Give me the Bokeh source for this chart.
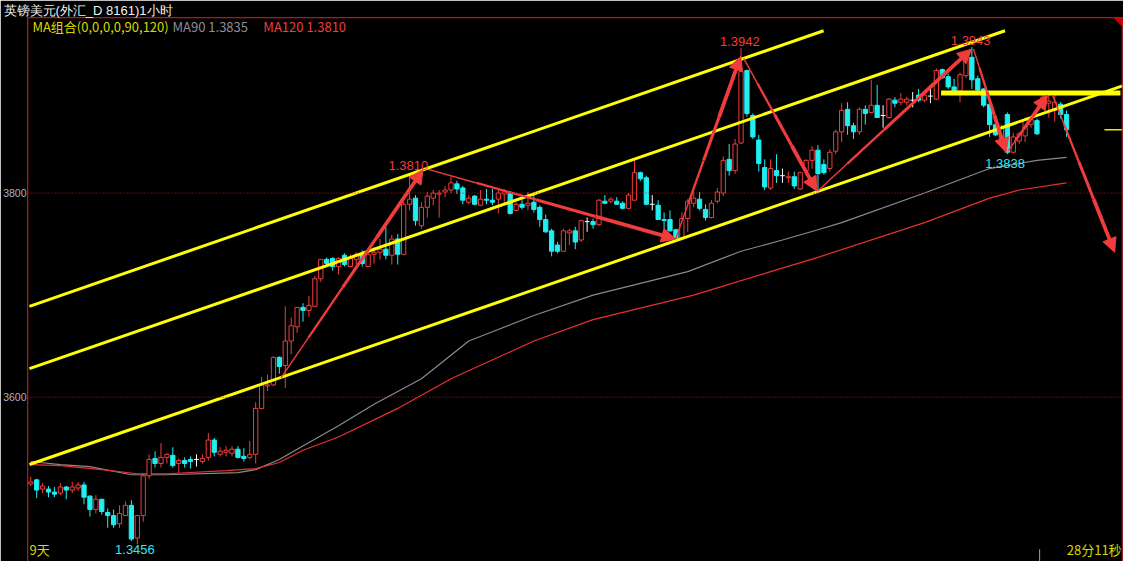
import math
from bokeh.plotting import figure
from bokeh.models import (ColumnDataSource, Span, Label, Arrow, NormalHead,
                          LinearAxis, FixedTicker)
from bokeh.embed import file_html
from bokeh.resources import INLINE

# ---------------- data ----------------
open_ = [1.3515,1.3519,1.3510,1.3510,1.3507,1.3506,1.3512,1.3509,1.3511,1.3514,
         1.3503,1.3490,1.3500,1.3487,1.3484,1.3476,1.3484,1.3494,1.3462,1.3484,
         1.3523,1.3540,1.3535,1.3541,1.3543,1.3535,1.3538,1.3539,1.3539,1.3537,
         1.3541,1.3558,1.3544,1.3546,1.3545,1.3549,1.3542,1.3541,1.3544,1.3589,
         1.3611,1.3612,1.3639,1.3631,1.3655,1.3669,1.3688,1.3685,1.3689,1.3716,
         1.3735,1.3736,1.3728,1.3739,1.3728,1.3735,1.3740,1.3728,1.3740,1.3742,
         1.3745,1.3739,1.3755,1.3740,1.3789,1.3795,1.3768,1.3786,1.3795,1.3799,
         1.3801,1.3803,1.3809,1.3805,1.3791,1.3797,1.3788,1.3794,1.3793,1.3794,
         1.3799,1.3800,1.3783,1.3789,1.3788,1.3791,1.3786,1.3774,1.3763,1.3749,
         1.3743,1.3761,1.3763,1.3754,1.3772,1.3772,1.3769,1.3792,1.3792,1.3792,
         1.3790,1.3785,1.3793,1.3820,1.3815,1.3789,1.3788,1.3774,1.3774,1.3764,
         1.3756,1.3775,1.3790,1.3794,1.3784,1.3776,1.3792,1.3800,1.3833,1.3822,
         1.3849,1.3920,1.3876,1.3852,1.3825,1.3805,1.3822,1.3817,1.3815,1.3816,
         1.3804,1.3822,1.3832,1.3842,1.3828,1.3824,1.3841,1.3860,1.3882,1.3866,
         1.3860,1.3882,1.3879,1.3886,1.3876,1.3874,1.3891,1.3889,1.3889,1.3891,
         1.3896,1.3891,1.3895,1.3892,1.3921,1.3914,1.3904,1.3900,1.3915,1.3933,
         1.3912,1.3902,1.3887,1.3867,1.3848,1.3877,1.3840,1.3851,1.3856,1.3867,
         1.3871,1.3886,1.3888,1.3881,1.3887,1.3877]
high_ = [1.3522,1.3520,1.3516,1.3513,1.3512,1.3516,1.3513,1.3517,1.3517,1.3517,
         1.3504,1.3504,1.3500,1.3491,1.3490,1.3494,1.3498,1.3499,1.3484,1.3525,
         1.3544,1.3547,1.3555,1.3545,1.3551,1.3540,1.3541,1.3542,1.3544,1.3544,
         1.3565,1.3560,1.3551,1.3552,1.3552,1.3552,1.3550,1.3557,1.3595,1.3620,
         1.3622,1.3640,1.3640,1.3689,1.3678,1.3688,1.3692,1.3699,1.3719,1.3735,
         1.3737,1.3737,1.3737,1.3741,1.3740,1.3742,1.3744,1.3744,1.3747,1.3755,
         1.3767,1.3759,1.3760,1.3792,1.3818,1.3798,1.3791,1.3801,1.3803,1.3803,
         1.3807,1.3816,1.3812,1.3807,1.3798,1.3798,1.3803,1.3804,1.3804,1.3803,
         1.3804,1.3802,1.3791,1.3793,1.3801,1.3798,1.3788,1.3779,1.3765,1.3752,
         1.3765,1.3765,1.3767,1.3774,1.3776,1.3775,1.3794,1.3798,1.3796,1.3796,
         1.3792,1.3800,1.3832,1.3821,1.3817,1.3798,1.3793,1.3781,1.3783,1.3765,
         1.3781,1.3794,1.3802,1.3801,1.3789,1.3793,1.3805,1.3836,1.3848,1.3853,
         1.3942,1.3921,1.3878,1.3857,1.3833,1.3833,1.3838,1.3824,1.3821,1.3821,
         1.3821,1.3833,1.3846,1.3847,1.3833,1.3843,1.3862,1.3888,1.3889,1.3869,
         1.3884,1.3886,1.3911,1.3906,1.3886,1.3893,1.3894,1.3898,1.3894,1.3899,
         1.3902,1.3899,1.3904,1.3922,1.3922,1.3917,1.3912,1.3918,1.3935,1.3943,
         1.3915,1.3903,1.3888,1.3868,1.3867,1.3879,1.3859,1.3860,1.3874,1.3873,
         1.3873,1.3899,1.3898,1.3896,1.3889,1.3881]
low_ = [1.3513,1.3501,1.3506,1.3502,1.3502,1.3504,1.3500,1.3506,1.3508,1.3495,
        1.3483,1.3486,1.3485,1.3472,1.3472,1.3472,1.3484,1.3459,1.3456,1.3478,
        1.3520,1.3531,1.3531,1.3535,1.3531,1.3526,1.3531,1.3530,1.3532,1.3535,
        1.3538,1.3542,1.3542,1.3542,1.3542,1.3540,1.3537,1.3539,1.3535,1.3588,
        1.3606,1.3611,1.3623,1.3609,1.3642,1.3663,1.3674,1.3679,1.3688,1.3713,
        1.3728,1.3724,1.3720,1.3728,1.3728,1.3730,1.3728,1.3728,1.3731,1.3735,
        1.3735,1.3730,1.3730,1.3739,1.3783,1.3768,1.3765,1.3776,1.3788,1.3776,
        1.3796,1.3800,1.3799,1.3789,1.3789,1.3788,1.3788,1.3789,1.3788,1.3780,
        1.3788,1.3779,1.3782,1.3784,1.3783,1.3781,1.3767,1.3761,1.3738,1.3741,
        1.3743,1.3749,1.3745,1.3752,1.3762,1.3765,1.3768,1.3789,1.3790,1.3789,
        1.3784,1.3784,1.3793,1.3812,1.3788,1.3783,1.3774,1.3765,1.3762,1.3755,
        1.3755,1.3762,1.3786,1.3783,1.3773,1.3775,1.3790,1.3797,1.3817,1.3819,
        1.3848,1.3875,1.3853,1.3821,1.3803,1.3803,1.3810,1.3810,1.3810,1.3804,
        1.3803,1.3817,1.3824,1.3802,1.3818,1.3821,1.3838,1.3850,1.3857,1.3853,
        1.3857,1.3867,1.3878,1.3874,1.3864,1.3873,1.3884,1.3886,1.3886,1.3884,
        1.3889,1.3889,1.3888,1.3891,1.3912,1.3902,1.3898,1.3889,1.3913,1.3902,
        1.3899,1.3884,1.3855,1.3856,1.3846,1.3838,1.3839,1.3848,1.3850,1.3864,
        1.3857,1.3884,1.3874,1.3870,1.3873,1.3855]
close_ = [1.3517,1.3509,1.3513,1.3507,1.3505,1.3512,1.3509,1.3512,1.3514,1.3502,
          1.3490,1.3500,1.3488,1.3484,1.3475,1.3486,1.3494,1.3461,1.3484,1.3523,
          1.3539,1.3535,1.3541,1.3544,1.3533,1.3538,1.3535,1.3537,1.3539,1.3540,
          1.3558,1.3546,1.3547,1.3548,1.3549,1.3541,1.3540,1.3544,1.3589,1.3612,
          1.3612,1.3639,1.3630,1.3655,1.3670,1.3688,1.3685,1.3690,1.3716,1.3735,
          1.3731,1.3728,1.3736,1.3730,1.3737,1.3740,1.3731,1.3740,1.3742,1.3745,
          1.3739,1.3755,1.3740,1.3789,1.3794,1.3773,1.3786,1.3797,1.3800,1.3800,
          1.3803,1.3810,1.3804,1.3793,1.3795,1.3789,1.3794,1.3793,1.3791,1.3800,
          1.3801,1.3780,1.3789,1.3786,1.3790,1.3784,1.3774,1.3762,1.3743,1.3743,
          1.3763,1.3763,1.3752,1.3773,1.3772,1.3769,1.3793,1.3790,1.3794,1.3789,
          1.3785,1.3798,1.3820,1.3814,1.3789,1.3789,1.3774,1.3773,1.3763,1.3756,
          1.3775,1.3792,1.3795,1.3785,1.3776,1.3790,1.3801,1.3832,1.3822,1.3848,
          1.3919,1.3878,1.3855,1.3829,1.3806,1.3824,1.3817,1.3817,1.3816,1.3807,
          1.3820,1.3832,1.3842,1.3819,1.3820,1.3840,1.3860,1.3881,1.3866,1.3860,
          1.3882,1.3878,1.3886,1.3874,1.3876,1.3892,1.3888,1.3892,1.3892,1.3891,
          1.3891,1.3896,1.3895,1.3920,1.3913,1.3904,1.3899,1.3916,1.3932,1.3911,
          1.3901,1.3886,1.3867,1.3857,1.3864,1.3840,1.3855,1.3858,1.3872,1.3872,
          1.3858,1.3894,1.3890,1.3889,1.3877,1.3862]

# moving averages (read at sample bars)
ma90_bar = [0,5,10,17,23,35,38,42,45,52,58,66,74,85,95,111,120,127,133,137,151,162,170,175]
ma90_val = [1.3537,1.3534,1.3532,1.3524,1.3524,1.3526,1.3529,1.3539,1.3549,1.3572,1.3593,1.3618,
            1.3655,1.3680,1.3700,1.3723,1.3743,1.3754,1.3764,1.3771,1.3800,1.3824,1.3832,1.3835]
ma120_bar = [0,5,12,18,23,33,38,42,46,52,62,71,85,95,112,125,133,151,162,167,175]
ma120_val = [1.3534,1.3533,1.3529,1.3525,1.3525,1.3528,1.3530,1.3536,1.3548,1.3561,1.3589,
             1.3618,1.3655,1.3676,1.3700,1.3723,1.3737,1.3771,1.3795,1.3803,1.3810]

# drawn channel lines (bar, price endpoints)
chan_x0 = [-0.22, -0.22, -0.22]
chan_y0 = [1.3534, 1.3628, 1.3689]
chan_x1 = [184.45, 164.6, 133.95]
chan_y1 = [1.3905, 1.3959, 1.3959]
resist_x = [153.8, 184.1]
resist_y = 1.3898

# drawn arrows (bar, price)
arr_x0 = [42.28, 67.28, 108.95, 120.45, 132.95, 159.28, 165.12, 172.62]
arr_y0 = [1.3619, 1.3823, 1.3755, 1.3932, 1.3802, 1.3941, 1.3841, 1.3896]
arr_x1 = [66.28, 108.95, 119.95, 132.78, 158.95, 164.78, 171.78, 183.12]
arr_y1 = [1.3823, 1.3755, 1.3934, 1.3802, 1.3941, 1.3840, 1.3896, 1.3742]

# price notes
note_text = ["1.3810", "1.3942", "1.3943", "1.3838", "1.3456"]
note_x = [63.8, 119.8, 158.8, 164.6, 17.6]
note_y = [1.3827, 1.3948, 1.3949, 1.3829, 1.3451]
note_col = ["#f03c3c", "#f03c3c", "#f03c3c", "#30e8f0", "#30e8f0"]

tick_vals = [1.38, 1.36]
tick_text = ["3800", "3600"]

X0, X1 = -0.55, 184.45
Y0, Y1 = 1.3439, 1.3972

UP = "#f23c3c"
DN = "#20eef0"
YEL = "#ffff00"

p = figure(width=1123, height=561, x_range=(X0, X1), y_range=(Y0, Y1),
           output_backend="svg", toolbar_location=None,
           x_axis_location=None, y_axis_location=None,
           background_fill_color="black", border_fill_color="black",
           min_border_left=20, min_border_right=1, min_border_top=0, min_border_bottom=0,
           outline_line_color=None)
p.grid.visible = False

# title above the frame
p.title.text = "英镑美元(外汇_D 8161)1小时"
p.title.text_color = "#f0f0f0"
p.title.text_font = "Liberation Sans"
p.title.text_font_size = "13px"
p.title.text_font_style = "normal"
p.title.align = "left"
p.title.offset = -24
p.title.standoff = 0

# left axis with the visible tick labels
yax = LinearAxis(ticker=FixedTicker(ticks=tick_vals),
                 major_label_overrides={v: t for v, t in zip(tick_vals, tick_text)},
                 axis_line_color=None, major_tick_line_color=None, minor_tick_line_color=None,
                 major_label_text_color="#b0b0c0", major_label_text_font="Liberation Sans",
                 major_label_text_font_size="10.5px", major_label_standoff=1,
                 major_tick_in=0, major_tick_out=0)
p.add_layout(yax, "left")

# frame lines
p.add_layout(Span(location=X0, dimension="height", line_color="#d81010", line_width=1.5))
p.add_layout(Span(location=Y1, dimension="width", line_color="#d81010", line_width=1.5))
p.add_layout(Span(location=X1, dimension="height", line_color="#d81010", line_width=1.5))
for tv in tick_vals:
    p.add_layout(Span(location=tv, dimension="width", line_color="#c81414",
                      line_width=1, line_dash="1 2"))

# moving averages
p.line(ma90_bar, ma90_val, line_color="#8a8a8a", line_width=1.2)
p.line(ma120_bar, ma120_val, line_color="#e83030", line_width=1.2)

# candles
n = len(open_)
idx = list(range(n))
btop = [max(o, c) for o, c in zip(open_, close_)]
bbot = [min(o, c) for o, c in zip(open_, close_)]
cols = [UP if c > o else (DN if c < o else "#ffffff") for o, c in zip(open_, close_)]
p.segment(x0=idx, y0=high_, x1=idx, y1=btop, line_color=cols, line_width=1)
p.segment(x0=idx, y0=bbot, x1=idx, y1=low_, line_color=cols, line_width=1)
up_i = [i for i in idx if close_[i] > open_[i]]
dn_i = [i for i in idx if close_[i] < open_[i]]
eq_i = [i for i in idx if close_[i] == open_[i]]
p.vbar(x=up_i, width=0.72, top=[btop[i] for i in up_i], bottom=[bbot[i] for i in up_i],
       fill_color="black", line_color=UP, line_width=1)
p.vbar(x=dn_i, width=0.72, top=[btop[i] for i in dn_i], bottom=[bbot[i] for i in dn_i],
       fill_color=DN, line_color=DN, line_width=1)
p.segment(x0=[i - 0.4 for i in eq_i], y0=[open_[i] for i in eq_i],
          x1=[i + 0.4 for i in eq_i], y1=[open_[i] for i in eq_i],
          line_color="#ffffff", line_width=1)

# yellow channel & resistance
p.segment(x0=chan_x0, y0=chan_y0, x1=chan_x1, y1=chan_y1, line_color=YEL, line_width=3)
p.segment(x0=[resist_x[0]], y0=[resist_y], x1=[resist_x[1]], y1=[resist_y],
          line_color=YEL, line_width=5)
p.segment(x0=[181.4], y0=[close_[-1]], x1=[X1], y1=[close_[-1]], line_color="#e8e800", line_width=1.5)

# small markers
p.segment(x0=[170.45], y0=[1.3451], x1=[170.45], y1=[Y0], line_color="#a0a0a0", line_width=1)
p.patch([182.95, X1, X1], [Y1, Y1, 1.3963], fill_color="#c00000", line_color="#c00000")

# tapered red arrows
pxx = 1100.0 / (X1 - X0)
pxy = 547.0 / (Y1 - Y0)
sx0, sy0, sx1, sy1, sw = [], [], [], [], []
hx0, hy0, hx1, hy1 = [], [], [], []
fr = [0.0, 0.2, 0.45, 0.7, 1.0]
wd = [1.4, 2.3, 3.1, 3.8]
for a, b, c, d in zip(arr_x0, arr_y0, arr_x1, arr_y1):
    L = math.hypot((c - a) * pxx, (d - b) * pxy)
    tend = 1 - 9.0 / L
    for k in range(4):
        t0, t1 = fr[k] * tend, fr[k + 1] * tend
        sx0.append(a + (c - a) * t0); sy0.append(b + (d - b) * t0)
        sx1.append(a + (c - a) * t1); sy1.append(b + (d - b) * t1)
        sw.append(wd[k])
    th = 1 - 20.0 / L
    hx0.append(a + (c - a) * th); hy0.append(b + (d - b) * th)
    hx1.append(c); hy1.append(d)
ARR = "#f03c3c"
p.segment(x0="x0", y0="y0", x1="x1", y1="y1", line_width="w", line_color=ARR,
          source=ColumnDataSource(dict(x0=sx0, y0=sy0, x1=sx1, y1=sy1, w=sw)))
p.add_layout(Arrow(end=NormalHead(size=14, fill_color=ARR, line_color=ARR, line_width=1),
                   x_start="x0", y_start="y0", x_end="x1", y_end="y1", line_alpha=0,
                   source=ColumnDataSource(dict(x0=hx0, y0=hy0, x1=hx1, y1=hy1))))

NUMF = "Liberation Sans"
CJK = "Noto Sans CJK SC"
for t, x, y, c in zip(note_text, note_x, note_y, note_col):
    p.add_layout(Label(x=x, y=y, text=t, text_color=c, text_font=NUMF,
                       text_font_size="13px", text_align="center", text_baseline="middle"))

# legend row
p.add_layout(Label(x=0.28, y=1.3963, text="MA组合(0,0,0,0,90,120)", text_color="#d8d800",
                   text_font=CJK, text_font_size="13px", text_align="left", text_baseline="middle"))
p.add_layout(Label(x=23.95, y=1.3963, text="MA90 1.3835", text_color="#8c8c9c",
                   text_font=CJK, text_font_size="13px", text_align="left", text_baseline="middle"))
p.add_layout(Label(x=39.3, y=1.3963, text="MA120 1.3810", text_color="#f03c3c",
                   text_font=CJK, text_font_size="13px", text_align="left", text_baseline="middle"))
# bottom row
p.add_layout(Label(x=-0.2, y=1.3451, text="9天", text_color="#d8d800",
                   text_font=CJK, text_font_size="13px", text_align="left", text_baseline="middle"))
p.add_layout(Label(x=184.3, y=1.3451, text="28分11秒", text_color="#d8d800",
                   text_font=CJK, text_font_size="13px", text_align="right", text_baseline="middle"))

open("out.html", "w").write(file_html(p, INLINE))
